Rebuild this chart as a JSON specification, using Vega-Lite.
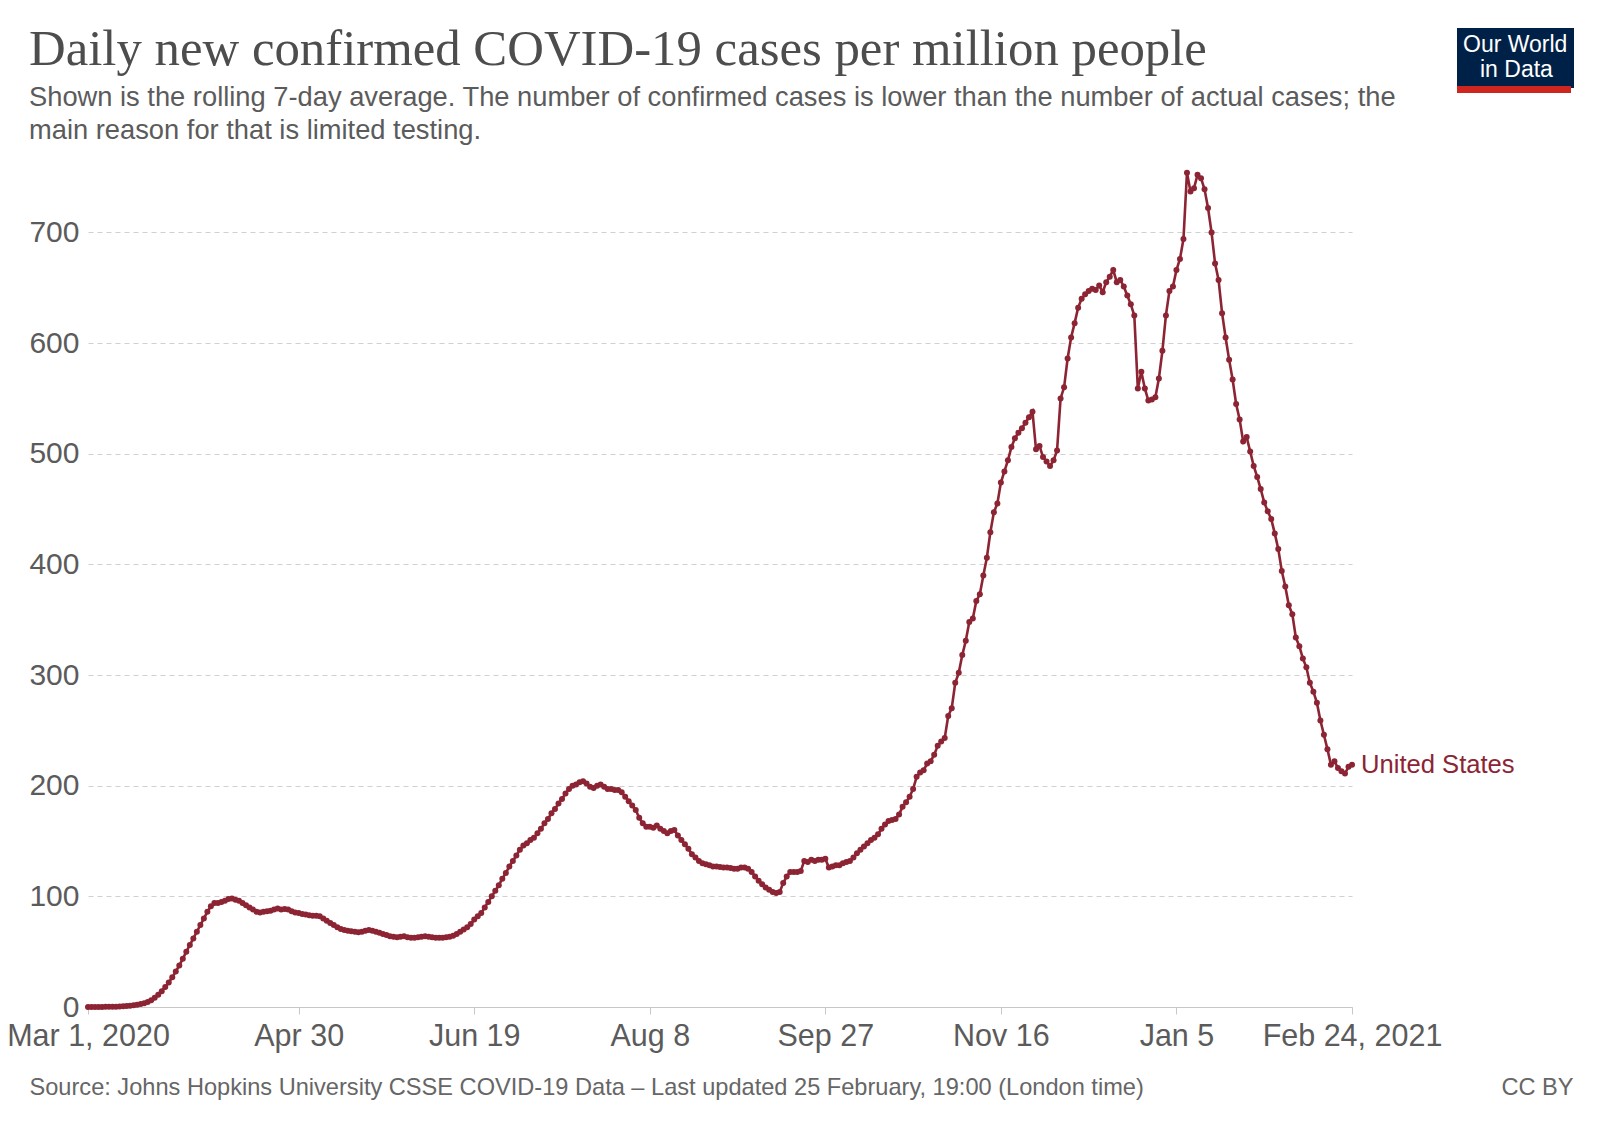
{
  "$schema": "https://vega.github.io/schema/vega-lite/v6.json",
  "width": 1264,
  "height": 841,
  "autosize": {"type": "none"},
  "padding": {"left": 88, "top": 166, "right": 248, "bottom": 122},
  "config": {"view": {"stroke": null}, "font": "Liberation Sans"},
  "title": {
    "text": "Daily new confirmed COVID-19 cases per million people",
    "subtitle": [
      "Shown is the rolling 7-day average. The number of confirmed cases is lower than the number of actual cases; the",
      "main reason for that is limited testing."
    ],
    "anchor": "start",
    "frame": "group",
    "dx": -59,
    "dy": 117,
    "offset": 0,
    "font": "Liberation Serif",
    "fontSize": 50.8,
    "fontWeight": "normal",
    "color": "#4d4d4d",
    "subtitleFont": "Liberation Sans",
    "subtitleFontSize": 27.3,
    "subtitleColor": "#5b5b5b",
    "subtitleLineHeight": 33,
    "subtitlePadding": 8
  },
  "data": {
    "values": [
      {"date": "2020-03-01", "cases": 0.0},
      {"date": "2020-03-02", "cases": 0.03},
      {"date": "2020-03-03", "cases": 0.04},
      {"date": "2020-03-04", "cases": 0.06},
      {"date": "2020-03-05", "cases": 0.09},
      {"date": "2020-03-06", "cases": 0.13},
      {"date": "2020-03-07", "cases": 0.18},
      {"date": "2020-03-08", "cases": 0.25},
      {"date": "2020-03-09", "cases": 0.33},
      {"date": "2020-03-10", "cases": 0.45},
      {"date": "2020-03-11", "cases": 0.6},
      {"date": "2020-03-12", "cases": 0.8},
      {"date": "2020-03-13", "cases": 1.1},
      {"date": "2020-03-14", "cases": 1.5},
      {"date": "2020-03-15", "cases": 2.0},
      {"date": "2020-03-16", "cases": 2.6},
      {"date": "2020-03-17", "cases": 3.4},
      {"date": "2020-03-18", "cases": 4.6},
      {"date": "2020-03-19", "cases": 6.2},
      {"date": "2020-03-20", "cases": 8.4},
      {"date": "2020-03-21", "cases": 11.0},
      {"date": "2020-03-22", "cases": 14.3},
      {"date": "2020-03-23", "cases": 18.0},
      {"date": "2020-03-24", "cases": 22.1},
      {"date": "2020-03-25", "cases": 26.8},
      {"date": "2020-03-26", "cases": 32.0},
      {"date": "2020-03-27", "cases": 37.6},
      {"date": "2020-03-28", "cases": 43.5},
      {"date": "2020-03-29", "cases": 50.0},
      {"date": "2020-03-30", "cases": 56.0},
      {"date": "2020-03-31", "cases": 62.0},
      {"date": "2020-04-01", "cases": 68},
      {"date": "2020-04-02", "cases": 74},
      {"date": "2020-04-03", "cases": 80},
      {"date": "2020-04-04", "cases": 86},
      {"date": "2020-04-05", "cases": 91},
      {"date": "2020-04-06", "cases": 94},
      {"date": "2020-04-07", "cases": 94},
      {"date": "2020-04-08", "cases": 95},
      {"date": "2020-04-09", "cases": 96},
      {"date": "2020-04-10", "cases": 97.5},
      {"date": "2020-04-11", "cases": 98},
      {"date": "2020-04-12", "cases": 97},
      {"date": "2020-04-13", "cases": 96},
      {"date": "2020-04-14", "cases": 94},
      {"date": "2020-04-15", "cases": 92},
      {"date": "2020-04-16", "cases": 90},
      {"date": "2020-04-17", "cases": 88},
      {"date": "2020-04-18", "cases": 86},
      {"date": "2020-04-19", "cases": 85.5},
      {"date": "2020-04-20", "cases": 86},
      {"date": "2020-04-21", "cases": 86.5},
      {"date": "2020-04-22", "cases": 87},
      {"date": "2020-04-23", "cases": 88},
      {"date": "2020-04-24", "cases": 89},
      {"date": "2020-04-25", "cases": 88},
      {"date": "2020-04-26", "cases": 88.5},
      {"date": "2020-04-27", "cases": 88},
      {"date": "2020-04-28", "cases": 86.5},
      {"date": "2020-04-29", "cases": 85.5},
      {"date": "2020-04-30", "cases": 85},
      {"date": "2020-05-01", "cases": 84},
      {"date": "2020-05-02", "cases": 83.5},
      {"date": "2020-05-03", "cases": 83},
      {"date": "2020-05-04", "cases": 82.5},
      {"date": "2020-05-05", "cases": 82.5},
      {"date": "2020-05-06", "cases": 82},
      {"date": "2020-05-07", "cases": 80},
      {"date": "2020-05-08", "cases": 78},
      {"date": "2020-05-09", "cases": 76},
      {"date": "2020-05-10", "cases": 74},
      {"date": "2020-05-11", "cases": 72},
      {"date": "2020-05-12", "cases": 70.5},
      {"date": "2020-05-13", "cases": 69.5},
      {"date": "2020-05-14", "cases": 69},
      {"date": "2020-05-15", "cases": 68.5},
      {"date": "2020-05-16", "cases": 68},
      {"date": "2020-05-17", "cases": 67.5},
      {"date": "2020-05-18", "cases": 68},
      {"date": "2020-05-19", "cases": 69},
      {"date": "2020-05-20", "cases": 69.5},
      {"date": "2020-05-21", "cases": 69},
      {"date": "2020-05-22", "cases": 68},
      {"date": "2020-05-23", "cases": 67},
      {"date": "2020-05-24", "cases": 66},
      {"date": "2020-05-25", "cases": 65},
      {"date": "2020-05-26", "cases": 64},
      {"date": "2020-05-27", "cases": 63.5},
      {"date": "2020-05-28", "cases": 63},
      {"date": "2020-05-29", "cases": 63.5},
      {"date": "2020-05-30", "cases": 64},
      {"date": "2020-05-31", "cases": 63},
      {"date": "2020-06-01", "cases": 62.5},
      {"date": "2020-06-02", "cases": 62.5},
      {"date": "2020-06-03", "cases": 63},
      {"date": "2020-06-04", "cases": 63.5},
      {"date": "2020-06-05", "cases": 64},
      {"date": "2020-06-06", "cases": 63.5},
      {"date": "2020-06-07", "cases": 63},
      {"date": "2020-06-08", "cases": 62.5},
      {"date": "2020-06-09", "cases": 62.5},
      {"date": "2020-06-10", "cases": 62.5},
      {"date": "2020-06-11", "cases": 63},
      {"date": "2020-06-12", "cases": 63.5},
      {"date": "2020-06-13", "cases": 64.5},
      {"date": "2020-06-14", "cases": 66},
      {"date": "2020-06-15", "cases": 68},
      {"date": "2020-06-16", "cases": 70},
      {"date": "2020-06-17", "cases": 72},
      {"date": "2020-06-18", "cases": 75},
      {"date": "2020-06-19", "cases": 79},
      {"date": "2020-06-20", "cases": 82},
      {"date": "2020-06-21", "cases": 85},
      {"date": "2020-06-22", "cases": 90},
      {"date": "2020-06-23", "cases": 95},
      {"date": "2020-06-24", "cases": 100},
      {"date": "2020-06-25", "cases": 105},
      {"date": "2020-06-26", "cases": 110},
      {"date": "2020-06-27", "cases": 116},
      {"date": "2020-06-28", "cases": 121},
      {"date": "2020-06-29", "cases": 127},
      {"date": "2020-06-30", "cases": 132},
      {"date": "2020-07-01", "cases": 137},
      {"date": "2020-07-02", "cases": 142},
      {"date": "2020-07-03", "cases": 146},
      {"date": "2020-07-04", "cases": 148},
      {"date": "2020-07-05", "cases": 151},
      {"date": "2020-07-06", "cases": 153},
      {"date": "2020-07-07", "cases": 157},
      {"date": "2020-07-08", "cases": 161},
      {"date": "2020-07-09", "cases": 166},
      {"date": "2020-07-10", "cases": 170},
      {"date": "2020-07-11", "cases": 175},
      {"date": "2020-07-12", "cases": 179},
      {"date": "2020-07-13", "cases": 184},
      {"date": "2020-07-14", "cases": 188},
      {"date": "2020-07-15", "cases": 193},
      {"date": "2020-07-16", "cases": 197},
      {"date": "2020-07-17", "cases": 200},
      {"date": "2020-07-18", "cases": 201},
      {"date": "2020-07-19", "cases": 203},
      {"date": "2020-07-20", "cases": 204},
      {"date": "2020-07-21", "cases": 202},
      {"date": "2020-07-22", "cases": 199},
      {"date": "2020-07-23", "cases": 198},
      {"date": "2020-07-24", "cases": 200},
      {"date": "2020-07-25", "cases": 201},
      {"date": "2020-07-26", "cases": 199},
      {"date": "2020-07-27", "cases": 197},
      {"date": "2020-07-28", "cases": 197},
      {"date": "2020-07-29", "cases": 196},
      {"date": "2020-07-30", "cases": 196},
      {"date": "2020-07-31", "cases": 194},
      {"date": "2020-08-01", "cases": 190},
      {"date": "2020-08-02", "cases": 186},
      {"date": "2020-08-03", "cases": 182},
      {"date": "2020-08-04", "cases": 178},
      {"date": "2020-08-05", "cases": 171},
      {"date": "2020-08-06", "cases": 166},
      {"date": "2020-08-07", "cases": 163},
      {"date": "2020-08-08", "cases": 163},
      {"date": "2020-08-09", "cases": 162},
      {"date": "2020-08-10", "cases": 164},
      {"date": "2020-08-11", "cases": 161},
      {"date": "2020-08-12", "cases": 159},
      {"date": "2020-08-13", "cases": 157},
      {"date": "2020-08-14", "cases": 159},
      {"date": "2020-08-15", "cases": 160},
      {"date": "2020-08-16", "cases": 155},
      {"date": "2020-08-17", "cases": 151},
      {"date": "2020-08-18", "cases": 147},
      {"date": "2020-08-19", "cases": 143},
      {"date": "2020-08-20", "cases": 138},
      {"date": "2020-08-21", "cases": 135},
      {"date": "2020-08-22", "cases": 132},
      {"date": "2020-08-23", "cases": 130},
      {"date": "2020-08-24", "cases": 129},
      {"date": "2020-08-25", "cases": 128},
      {"date": "2020-08-26", "cases": 127},
      {"date": "2020-08-27", "cases": 127},
      {"date": "2020-08-28", "cases": 126.5},
      {"date": "2020-08-29", "cases": 126},
      {"date": "2020-08-30", "cases": 126},
      {"date": "2020-08-31", "cases": 125.5},
      {"date": "2020-09-01", "cases": 125},
      {"date": "2020-09-02", "cases": 125},
      {"date": "2020-09-03", "cases": 126},
      {"date": "2020-09-04", "cases": 126},
      {"date": "2020-09-05", "cases": 125},
      {"date": "2020-09-06", "cases": 122},
      {"date": "2020-09-07", "cases": 118},
      {"date": "2020-09-08", "cases": 114},
      {"date": "2020-09-09", "cases": 111},
      {"date": "2020-09-10", "cases": 108},
      {"date": "2020-09-11", "cases": 106},
      {"date": "2020-09-12", "cases": 104},
      {"date": "2020-09-13", "cases": 103},
      {"date": "2020-09-14", "cases": 104},
      {"date": "2020-09-15", "cases": 112},
      {"date": "2020-09-16", "cases": 118},
      {"date": "2020-09-17", "cases": 122},
      {"date": "2020-09-18", "cases": 122},
      {"date": "2020-09-19", "cases": 122},
      {"date": "2020-09-20", "cases": 123},
      {"date": "2020-09-21", "cases": 132},
      {"date": "2020-09-22", "cases": 131},
      {"date": "2020-09-23", "cases": 133},
      {"date": "2020-09-24", "cases": 132},
      {"date": "2020-09-25", "cases": 133},
      {"date": "2020-09-26", "cases": 133},
      {"date": "2020-09-27", "cases": 134},
      {"date": "2020-09-28", "cases": 126},
      {"date": "2020-09-29", "cases": 127},
      {"date": "2020-09-30", "cases": 128},
      {"date": "2020-10-01", "cases": 128},
      {"date": "2020-10-02", "cases": 130},
      {"date": "2020-10-03", "cases": 131},
      {"date": "2020-10-04", "cases": 132},
      {"date": "2020-10-05", "cases": 135},
      {"date": "2020-10-06", "cases": 139},
      {"date": "2020-10-07", "cases": 142},
      {"date": "2020-10-08", "cases": 145},
      {"date": "2020-10-09", "cases": 148},
      {"date": "2020-10-10", "cases": 151},
      {"date": "2020-10-11", "cases": 153},
      {"date": "2020-10-12", "cases": 156},
      {"date": "2020-10-13", "cases": 161},
      {"date": "2020-10-14", "cases": 165},
      {"date": "2020-10-15", "cases": 168},
      {"date": "2020-10-16", "cases": 169},
      {"date": "2020-10-17", "cases": 170},
      {"date": "2020-10-18", "cases": 174},
      {"date": "2020-10-19", "cases": 181},
      {"date": "2020-10-20", "cases": 185},
      {"date": "2020-10-21", "cases": 190},
      {"date": "2020-10-22", "cases": 197},
      {"date": "2020-10-23", "cases": 208},
      {"date": "2020-10-24", "cases": 212},
      {"date": "2020-10-25", "cases": 214},
      {"date": "2020-10-26", "cases": 220},
      {"date": "2020-10-27", "cases": 222},
      {"date": "2020-10-28", "cases": 228},
      {"date": "2020-10-29", "cases": 236},
      {"date": "2020-10-30", "cases": 240},
      {"date": "2020-10-31", "cases": 243},
      {"date": "2020-11-01", "cases": 263},
      {"date": "2020-11-02", "cases": 270},
      {"date": "2020-11-03", "cases": 293},
      {"date": "2020-11-04", "cases": 302},
      {"date": "2020-11-05", "cases": 318},
      {"date": "2020-11-06", "cases": 331},
      {"date": "2020-11-07", "cases": 348},
      {"date": "2020-11-08", "cases": 351},
      {"date": "2020-11-09", "cases": 367},
      {"date": "2020-11-10", "cases": 373},
      {"date": "2020-11-11", "cases": 390},
      {"date": "2020-11-12", "cases": 406},
      {"date": "2020-11-13", "cases": 429},
      {"date": "2020-11-14", "cases": 447},
      {"date": "2020-11-15", "cases": 455},
      {"date": "2020-11-16", "cases": 474},
      {"date": "2020-11-17", "cases": 484},
      {"date": "2020-11-18", "cases": 494},
      {"date": "2020-11-19", "cases": 506},
      {"date": "2020-11-20", "cases": 514},
      {"date": "2020-11-21", "cases": 519},
      {"date": "2020-11-22", "cases": 523},
      {"date": "2020-11-23", "cases": 528},
      {"date": "2020-11-24", "cases": 533},
      {"date": "2020-11-25", "cases": 538},
      {"date": "2020-11-26", "cases": 504},
      {"date": "2020-11-27", "cases": 507},
      {"date": "2020-11-28", "cases": 497},
      {"date": "2020-11-29", "cases": 493},
      {"date": "2020-11-30", "cases": 489},
      {"date": "2020-12-01", "cases": 494},
      {"date": "2020-12-02", "cases": 503},
      {"date": "2020-12-03", "cases": 550},
      {"date": "2020-12-04", "cases": 560},
      {"date": "2020-12-05", "cases": 586},
      {"date": "2020-12-06", "cases": 605},
      {"date": "2020-12-07", "cases": 618},
      {"date": "2020-12-08", "cases": 632},
      {"date": "2020-12-09", "cases": 640},
      {"date": "2020-12-10", "cases": 644},
      {"date": "2020-12-11", "cases": 647},
      {"date": "2020-12-12", "cases": 649},
      {"date": "2020-12-13", "cases": 648},
      {"date": "2020-12-14", "cases": 652},
      {"date": "2020-12-15", "cases": 646},
      {"date": "2020-12-16", "cases": 655},
      {"date": "2020-12-17", "cases": 660},
      {"date": "2020-12-18", "cases": 666},
      {"date": "2020-12-19", "cases": 655},
      {"date": "2020-12-20", "cases": 657},
      {"date": "2020-12-21", "cases": 651},
      {"date": "2020-12-22", "cases": 643},
      {"date": "2020-12-23", "cases": 635},
      {"date": "2020-12-24", "cases": 625},
      {"date": "2020-12-25", "cases": 559},
      {"date": "2020-12-26", "cases": 574},
      {"date": "2020-12-27", "cases": 559},
      {"date": "2020-12-28", "cases": 548},
      {"date": "2020-12-29", "cases": 549},
      {"date": "2020-12-30", "cases": 551},
      {"date": "2020-12-31", "cases": 568},
      {"date": "2021-01-01", "cases": 593},
      {"date": "2021-01-02", "cases": 625},
      {"date": "2021-01-03", "cases": 647},
      {"date": "2021-01-04", "cases": 651},
      {"date": "2021-01-05", "cases": 666},
      {"date": "2021-01-06", "cases": 676},
      {"date": "2021-01-07", "cases": 694},
      {"date": "2021-01-08", "cases": 754},
      {"date": "2021-01-09", "cases": 737},
      {"date": "2021-01-10", "cases": 740},
      {"date": "2021-01-11", "cases": 752},
      {"date": "2021-01-12", "cases": 749},
      {"date": "2021-01-13", "cases": 739},
      {"date": "2021-01-14", "cases": 722},
      {"date": "2021-01-15", "cases": 700},
      {"date": "2021-01-16", "cases": 672},
      {"date": "2021-01-17", "cases": 657},
      {"date": "2021-01-18", "cases": 627},
      {"date": "2021-01-19", "cases": 605},
      {"date": "2021-01-20", "cases": 585},
      {"date": "2021-01-21", "cases": 567},
      {"date": "2021-01-22", "cases": 545},
      {"date": "2021-01-23", "cases": 531},
      {"date": "2021-01-24", "cases": 511},
      {"date": "2021-01-25", "cases": 515},
      {"date": "2021-01-26", "cases": 502},
      {"date": "2021-01-27", "cases": 489},
      {"date": "2021-01-28", "cases": 479},
      {"date": "2021-01-29", "cases": 468},
      {"date": "2021-01-30", "cases": 456},
      {"date": "2021-01-31", "cases": 448},
      {"date": "2021-02-01", "cases": 441},
      {"date": "2021-02-02", "cases": 428},
      {"date": "2021-02-03", "cases": 414},
      {"date": "2021-02-04", "cases": 394},
      {"date": "2021-02-05", "cases": 380},
      {"date": "2021-02-06", "cases": 363},
      {"date": "2021-02-07", "cases": 355},
      {"date": "2021-02-08", "cases": 334},
      {"date": "2021-02-09", "cases": 326},
      {"date": "2021-02-10", "cases": 315},
      {"date": "2021-02-11", "cases": 307},
      {"date": "2021-02-12", "cases": 293},
      {"date": "2021-02-13", "cases": 285},
      {"date": "2021-02-14", "cases": 275},
      {"date": "2021-02-15", "cases": 259},
      {"date": "2021-02-16", "cases": 246},
      {"date": "2021-02-17", "cases": 233},
      {"date": "2021-02-18", "cases": 219},
      {"date": "2021-02-19", "cases": 222},
      {"date": "2021-02-20", "cases": 216},
      {"date": "2021-02-21", "cases": 213},
      {"date": "2021-02-22", "cases": 211},
      {"date": "2021-02-23", "cases": 217},
      {"date": "2021-02-24", "cases": 219}
    ]
  },
  "layer": [
    {
      "mark": {
        "type": "line",
        "strokeWidth": 2.6,
        "point": {"filled": true, "size": 36}
      },
      "encoding": {
        "x": {
          "field": "date",
          "type": "temporal",
          "scale": {
            "type": "utc",
            "domain": [
              {"year": 2020, "month": 3, "date": 1, "utc": true},
              {"year": 2021, "month": 2, "date": 24, "utc": true}
            ]
          },
          "axis": {
            "values": [
              {"year": 2020, "month": 3, "date": 1, "utc": true},
              {"year": 2020, "month": 4, "date": 30, "utc": true},
              {"year": 2020, "month": 6, "date": 19, "utc": true},
              {"year": 2020, "month": 8, "date": 8, "utc": true},
              {"year": 2020, "month": 9, "date": 27, "utc": true},
              {"year": 2020, "month": 11, "date": 16, "utc": true},
              {"year": 2021, "month": 1, "date": 5, "utc": true},
              {"year": 2021, "month": 2, "date": 24, "utc": true}
            ],
            "labelExpr": "utcFormat(datum.value, '%m-%d') == '03-01' || utcFormat(datum.value, '%m-%d') == '02-24' ? utcFormat(datum.value, '%b %-d, %Y') : utcFormat(datum.value, '%b %-d')",
            "labelFontSize": 30.5,
            "labelColor": "#5b5b5b",
            "labelPadding": 7,
            "labelFlush": false,
            "labelOverlap": false,
            "labelBound": false,
            "tickSize": 7,
            "tickColor": "#c8c8c8",
            "domainColor": "#c8c8c8",
            "grid": false,
            "title": "Source: Johns Hopkins University CSSE COVID-19 Data \u2013 Last updated 25 February, 19:00 (London time)",
            "titleFontSize": 23.6,
            "titleFontWeight": "normal",
            "titleColor": "#666666",
            "titleAlign": "left",
            "titleBaseline": "alphabetic",
            "titleX": -59,
            "titleY": 87
          }
        },
        "y": {
          "field": "cases",
          "type": "quantitative",
          "scale": {"domain": [0, 760], "nice": false},
          "axis": {
            "orient": "left",
            "values": [0, 100, 200, 300, 400, 500, 600, 700],
            "title": null,
            "domain": false,
            "ticks": false,
            "labelFontSize": 30,
            "labelColor": "#5b5b5b",
            "labelPadding": 9,
            "gridColor": "#d0d0d0",
            "gridDash": [5, 4],
            "gridWidth": 1
          }
        },
        "color": {
          "datum": "United States",
          "type": "nominal",
          "scale": {"range": ["#8c2433"]},
          "legend": {
            "orient": "none",
            "legendX": 1369,
            "legendY": -138,
            "fillColor": "#002147",
            "padding": 6,
            "title": "Our World",
            "titleFont": "Liberation Sans",
            "titleFontSize": 23,
            "titleFontWeight": "normal",
            "titleColor": "#ffffff",
            "titlePadding": 1,
            "labelExpr": "'in Data'",
            "labelFont": "Liberation Sans",
            "labelFontSize": 23,
            "labelColor": "#ffffff",
            "labelOffset": -6,
            "symbolSize": 0,
            "symbolOpacity": 0,
            "symbolStrokeWidth": 0
          }
        }
      }
    },
    {
      "transform": [
        {"filter": {"field": "date", "equal": {"year": 2021, "month": 2, "date": 24, "utc": true}}}
      ],
      "mark": {
        "type": "text",
        "align": "left",
        "baseline": "middle",
        "dx": 9,
        "fontSize": 25.6,
        "font": "Liberation Sans",
        "color": "#8c2433"
      },
      "encoding": {
        "x": {"field": "date", "type": "temporal"},
        "y": {"field": "cases", "type": "quantitative", "axis": null},
        "text": {"value": "United States"}
      }
    },
    {
      "mark": {"type": "point", "size": 0, "filled": true, "strokeWidth": 0, "opacity": 1},
      "encoding": {
        "x": {"field": "date", "type": "temporal"},
        "y": {
          "field": "cases",
          "type": "quantitative",
          "axis": {
            "orient": "right",
            "domain": false,
            "ticks": false,
            "labels": false,
            "grid": false,
            "title": "CC BY",
            "titleAngle": 0,
            "titleAlign": "right",
            "titleBaseline": "alphabetic",
            "titleX": 221,
            "titleY": 928,
            "titleFont": "Liberation Sans",
            "titleFontSize": 23.6,
            "titleFontWeight": "normal",
            "titleColor": "#666666"
          }
        },
        "fill": {
          "field": "cases",
          "type": "quantitative",
          "scale": {"range": ["#ce261e", "#ce261e"]},
          "legend": {
            "type": "gradient",
            "orient": "none",
            "legendX": 1369,
            "legendY": -80,
            "direction": "horizontal",
            "gradientLength": 114,
            "gradientThickness": 7,
            "gradientStrokeWidth": 0,
            "gradientOpacity": 1,
            "title": null,
            "labelOpacity": 0,
            "labelFontSize": 1,
            "padding": 0
          }
        }
      }
    }
  ],
  "resolve": {"axis": {"y": "independent"}}
}
